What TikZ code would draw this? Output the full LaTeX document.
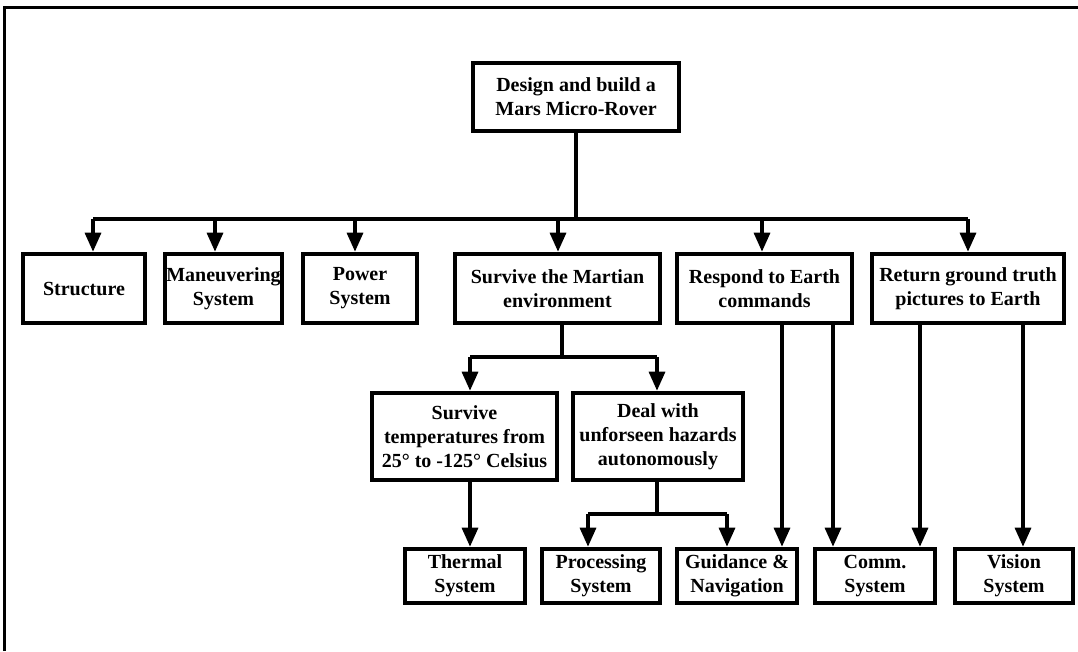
\documentclass[tikz,border=0pt]{standalone}
\usepackage{fontspec}
\setmainfont{Liberation Serif}
\usetikzlibrary{arrows.meta}
\begin{document}
\begin{tikzpicture}[x=1pt,y=-1pt,
  box/.style={draw, line width=3.6pt, fill=white, align=center, inner sep=1pt,
    font=\bfseries\fontsize{20}{24}\selectfont},
  link/.style={line width=3.2pt},
  arr/.style={link, -{Triangle[length=19pt,width=16pt]}, shorten >=0.5pt},
]
\useasboundingbox (0,0) rectangle (1078,651);
% outer frame (top and left edges)
\draw[line width=3pt] (4,651) -- (4,7) -- (1078,7);

% goal
\node[box, minimum width=206pt, minimum height=68pt] (top) at (576,97)
  {Design and build a\\Mars Micro-Rover};

% first level
\node[box, minimum width=122pt, minimum height=69pt] (struct) at (84,288.5) {Structure};
\node[box, minimum width=117pt, minimum height=69pt] (manu) at (223.5,288.5) {Maneuvering\\System};
\node[box, minimum width=114pt, minimum height=69pt] (power) at (360,288.5) {Power\\System};
\node[box, minimum width=205pt, minimum height=69pt] (surv) at (557.5,288.5) {Survive the Martian\\environment};
\node[box, minimum width=175pt, minimum height=69pt] (resp) at (764.5,288.5) {Respond to Earth\\commands};
\node[box, minimum width=192pt, minimum height=69pt] (ret) at (968,288.5) {Return ground truth\\pictures to Earth};

% second level
\node[box, minimum width=185pt, minimum height=87pt] (temps) at (464.5,436.5)
  {Survive\\temperatures from\\25° to -125° Celsius};
\node[box, minimum width=170pt, minimum height=87pt] (deal) at (658,436.5)
  {Deal with\\unforseen hazards\\autonomously};

% subsystems
\node[box, minimum width=120pt, minimum height=54pt] (therm) at (465,576) {Thermal\\System};
\node[box, minimum width=118pt, minimum height=54pt] (proc) at (601,576) {Processing\\System};
\node[box, minimum width=120pt, minimum height=54pt] (guid) at (737,576) {Guidance \&\\Navigation};
\node[box, minimum width=120pt, minimum height=54pt] (comm) at (875,576) {Comm.\\System};
\node[box, minimum width=118pt, minimum height=54pt] (vis) at (1014,576) {Vision\\System};

% distribution bar under the goal
\coordinate (b1) at (93,219);
\coordinate (b2) at (215,219);
\coordinate (b3) at (355,219);
\coordinate (b4) at (558,219);
\coordinate (b5) at (762,219);
\coordinate (b6) at (968,219);
\draw[link] (top.south) -- (top.south |- b1);
\draw[link] (b1) -- (b6);
\draw[arr] (b1) -- (b1 |- struct.north);
\draw[arr] (b2) -- (b2 |- manu.north);
\draw[arr] (b3) -- (b3 |- power.north);
\draw[arr] (b4) -- (b4 |- surv.north);
\draw[arr] (b5) -- (b5 |- resp.north);
\draw[arr] (b6) -- (b6 |- ret.north);

% survive branch
\coordinate (s0) at (562,357);
\coordinate (s1) at (470,357);
\coordinate (s2) at (657,357);
\draw[link] (s0 |- surv.south) -- (s0);
\draw[link] (s1) -- (s2);
\draw[arr] (s1) -- (s1 |- temps.north);
\draw[arr] (s2) -- (s2 |- deal.north);

% temperature -> thermal
\coordinate (t0) at (470,480);
\draw[arr] (t0 |- temps.south) -- (t0 |- therm.north);

% hazards branch
\coordinate (d0) at (657,514);
\coordinate (d1) at (588,514);
\coordinate (d2) at (727,514);
\draw[link] (d0 |- deal.south) -- (d0);
\draw[link] (d1) -- (d2);
\draw[arr] (d1) -- (d1 |- proc.north);
\draw[arr] (d2) -- (d2 |- guid.north);

% commands and pictures
\coordinate (r1) at (782,400);
\coordinate (r2) at (833,400);
\coordinate (p1) at (920,400);
\coordinate (p2) at (1023,400);
\draw[arr] (r1 |- resp.south) -- (r1 |- guid.north);
\draw[arr] (r2 |- resp.south) -- (r2 |- comm.north);
\draw[arr] (p1 |- ret.south) -- (p1 |- comm.north);
\draw[arr] (p2 |- ret.south) -- (p2 |- vis.north);
\end{tikzpicture}
\end{document}
